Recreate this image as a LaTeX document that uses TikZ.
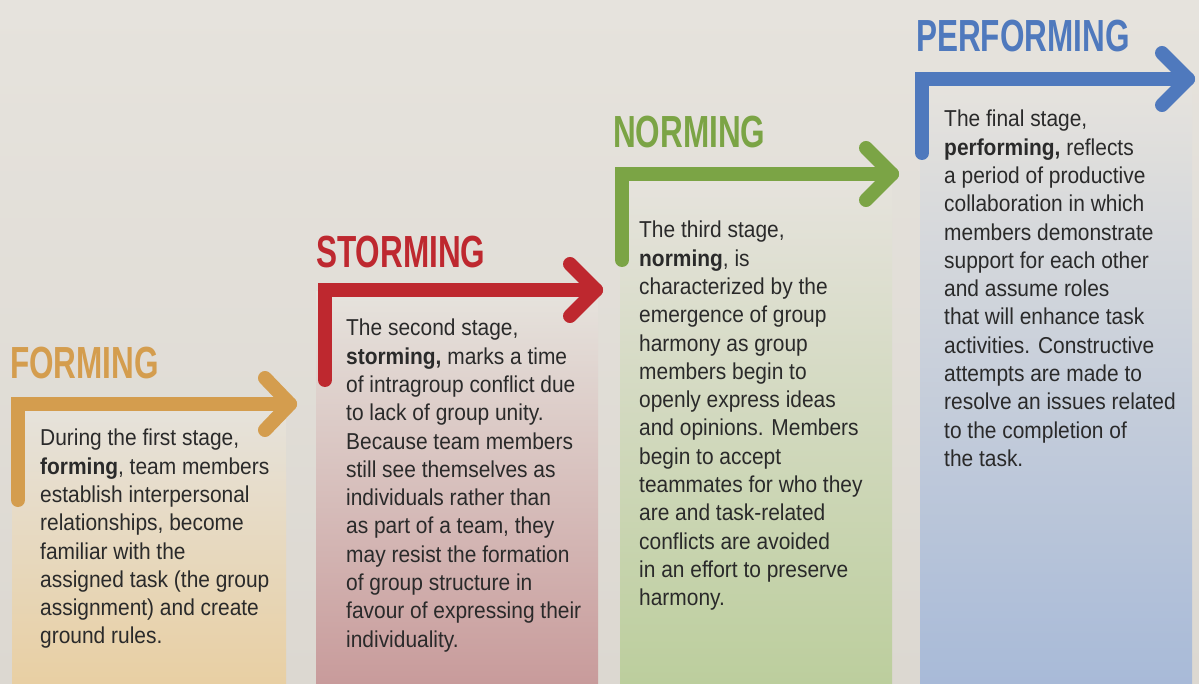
\documentclass[tikz,border=0pt]{standalone}
\usepackage{fontspec}
\setmainfont{Liberation Sans}[FakeStretch=0.91]
\newfontfamily\titlefont{Liberation Sans Bold}[FakeStretch=0.70]
\definecolor{bgA}{HTML}{E6E3DD}
\definecolor{bgB}{HTML}{DCD8D1}
\definecolor{cF}{HTML}{D49D4E}
\definecolor{cS}{HTML}{BE282F}
\definecolor{cN}{HTML}{7BA445}
\definecolor{cP}{HTML}{4F79BD}
\definecolor{bF}{HTML}{E8CFA3}
\definecolor{bS}{HTML}{C89B9B}
\definecolor{bN}{HTML}{BCCE9D}
\definecolor{bP}{HTML}{A8BAD8}
\definecolor{txt}{HTML}{2A2A2A}
\tikzset{
  colbox/.style={top color=bgA, draw=none},
  shaft/.style={line width=14pt, line cap=round, line join=miter},
  head/.style={line width=14pt, line cap=round, line join=round},
  title/.style={anchor=base west, inner sep=0pt, font=\titlefont\fontsize{45}{45}\selectfont},
  body/.style={anchor=north west, inner sep=0pt, align=left, text=txt, font=\fontsize{23}{28.3}\selectfont}
}
\begin{document}
\begin{tikzpicture}[x=1pt,y=-1pt]
\useasboundingbox (0,0) rectangle (1199,684);
\fill[top color=bgA,bottom color=bgB] (0,0) rectangle (1199,684);
% columns
\fill[colbox,bottom color=bF] (12,400) rectangle (286,684);
\fill[colbox,bottom color=bS] (316,292) rectangle (598,684);
\fill[colbox,bottom color=bN] (620,178) rectangle (892,684);
\fill[colbox,bottom color=bP] (920,80) rectangle (1192,684);
% arrows
\coordinate (f0) at (18,500); \coordinate (f1) at (18,404); \coordinate (f2) at (290,404);
\draw[shaft,cF] (f0) -- (f1) -- (f2);
\draw[head,cF] (265,378) -- (f2) -- (265,430);
\coordinate (s0) at (325,380); \coordinate (s1) at (325,290); \coordinate (s2) at (596,290);
\draw[shaft,cS] (s0) -- (s1) -- (s2);
\draw[head,cS] (570,264) -- (s2) -- (570,316);
\coordinate (n0) at (622,260); \coordinate (n1) at (622,174); \coordinate (n2) at (892,174);
\draw[shaft,cN] (n0) -- (n1) -- (n2);
\draw[head,cN] (866,148) -- (n2) -- (866,200);
\coordinate (p0) at (922,153); \coordinate (p1) at (922,79); \coordinate (p2) at (1188,79);
\draw[shaft,cP] (p0) -- (p1) -- (p2);
\draw[head,cP] (1162,53) -- (p2) -- (1162,105);
% titles
\node[title,text=cF] (tf) at (10,378) {FORMING};
\node[title,text=cS] (ts) at (316,268) {STORMING};
\node[title,text=cN] (tn) at (613,148) {NORMING};
\node[title,text=cP] (tp) at (916,52) {PERFORMING};
% bodies
\node[body] (xf) at (40,429) {During the first stage,\\ \textbf{forming}, team members\\ establish interpersonal\\ relationships, become\\ familiar with the\\ assigned task (the group\\ assignment) and create\\ ground rules.};
\node[body] (xs) at (346,319) {The second stage,\\ \textbf{storming,} marks a time\\ of intragroup conflict due\\ to lack of group unity.\\ Because team members\\ still see themselves as\\ individuals rather than\\ as part of a team, they\\ may resist the formation\\ of group structure in\\ favour of expressing their\\ individuality.};
\node[body] (xn) at (639,221) {The third stage,\\ \textbf{norming}, is\\ characterized by the\\ emergence of group\\ harmony as group\\ members begin to\\ openly express ideas\\ and opinions. Members\\ begin to accept\\ teammates for who they\\ are and task-related\\ conflicts are avoided\\ in an effort to preserve\\ harmony.};
\node[body] (xp) at (944,110) {The final stage,\\ \textbf{performing,} reflects\\ a period of productive\\ collaboration in which\\ members demonstrate\\ support for each other\\ and assume roles\\ that will enhance task\\ activities. Constructive\\ attempts are made to\\ resolve an issues related\\ to the completion of\\ the task.};
\end{tikzpicture}
\end{document}
